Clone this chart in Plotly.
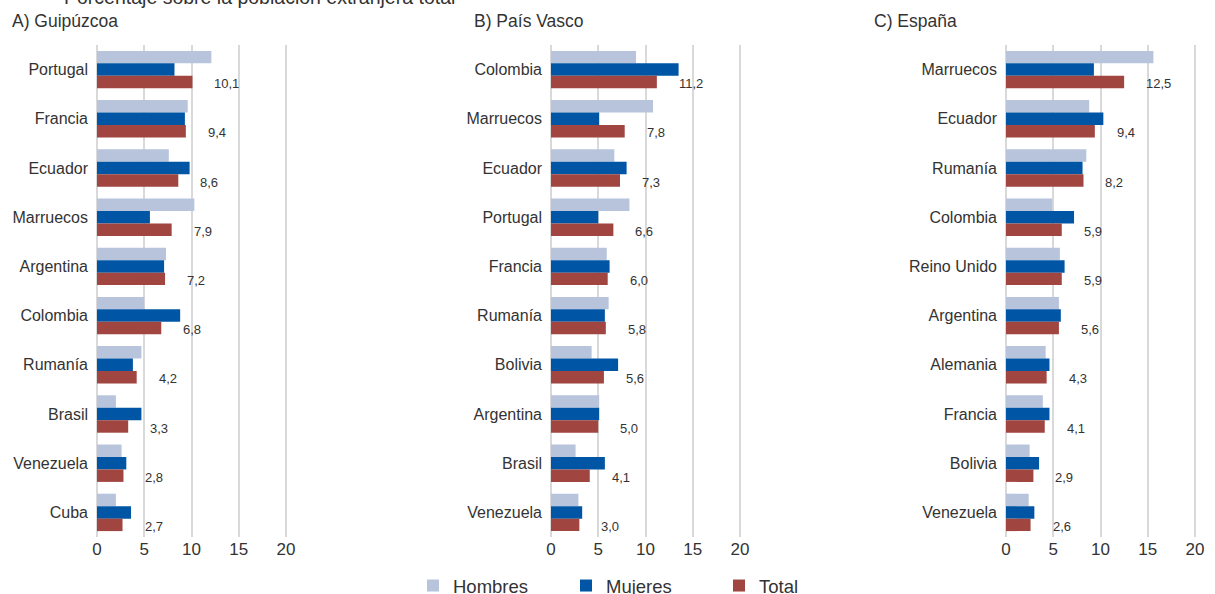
import plotly.graph_objects as go

# Panel A: Guipúzcoa
cat_a = ["Portugal", "Francia", "Ecuador", "Marruecos", "Argentina", "Colombia", "Rumanía", "Brasil", "Venezuela", "Cuba"]
hom_a = [12.1, 9.6, 7.6, 10.3, 7.3, 5.0, 4.7, 2.0, 2.6, 2.0]
muj_a = [8.2, 9.3, 9.8, 5.6, 7.1, 8.8, 3.8, 4.7, 3.1, 3.6]
tot_a = [10.1, 9.4, 8.6, 7.9, 7.2, 6.8, 4.2, 3.3, 2.8, 2.7]

# Panel B: País Vasco
cat_b = ["Colombia", "Marruecos", "Ecuador", "Portugal", "Francia", "Rumanía", "Bolivia", "Argentina", "Brasil", "Venezuela"]
hom_b = [9.0, 10.8, 6.7, 8.3, 5.9, 6.1, 4.3, 5.1, 2.6, 2.9]
muj_b = [13.5, 5.1, 8.0, 5.0, 6.2, 5.7, 7.1, 5.1, 5.7, 3.3]
tot_b = [11.2, 7.8, 7.3, 6.6, 6.0, 5.8, 5.6, 5.0, 4.1, 3.0]

# Panel C: España
cat_c = ["Marruecos", "Ecuador", "Rumanía", "Colombia", "Reino Unido", "Argentina", "Alemania", "Francia", "Bolivia", "Venezuela"]
hom_c = [15.6, 8.8, 8.5, 4.9, 5.7, 5.6, 4.2, 3.9, 2.5, 2.4]
muj_c = [9.3, 10.3, 8.1, 7.2, 6.2, 5.8, 4.6, 4.6, 3.5, 3.0]
tot_c = [12.5, 9.4, 8.2, 5.9, 5.9, 5.6, 4.3, 4.1, 2.9, 2.6]

panel_titles = ["A) Guipúzcoa", "B) País Vasco", "C) España"]
series_names = ["Hombres", "Mujeres", "Total"]
colors = ["#B8C4DC", "#0056A4", "#A0453F"]
x_ticks = [0, 5, 10, 15, 20]

W, H = 1215, 594
font_family = "Liberation Sans, Arial, sans-serif"
txt = "#333333"

fig = go.Figure()

panels = [
    (cat_a, [hom_a, muj_a, tot_a]),
    (cat_b, [hom_b, muj_b, tot_b]),
    (cat_c, [hom_c, muj_c, tot_c]),
]
domains_px = [(97, 286), (551, 740), (1006, 1195)]
XMAX = 20.3

annotations = []
for i, (cats, series) in enumerate(panels):
    xa = "x" if i == 0 else f"x{i+1}"
    ya = "y" if i == 0 else f"y{i+1}"
    for j, (name, vals) in enumerate(zip(series_names, series)):
        fig.add_trace(go.Bar(
            x=vals, y=cats, orientation="h", name=name,
            marker=dict(color=colors[j], line=dict(width=0)),
            xaxis=xa, yaxis=ya, showlegend=(i == 0),
            legendgroup=name, hoverinfo="x+y+name",
        ))
    for c, v in zip(cats, series[2]):
        annotations.append(dict(
            x=v, y=c, xref=xa, yref=ya, text=f"{v:.1f}".replace(".", ","),
            showarrow=False, xanchor="left", yanchor="middle",
            xshift=20, yshift=-14, font=dict(size=13, color=txt, family=font_family),
        ))
    d0, d1 = domains_px[i]
    d1e = d0 + (d1 - d0) * XMAX / 20
    axis_x = dict(
        domain=[d0 / W, d1e / W], range=[0, XMAX], tickvals=x_ticks,
        showgrid=True, gridcolor="#D9D9D9", gridwidth=1.5,
        zeroline=True, zerolinecolor="#D9D9D9", zerolinewidth=1.5,
        showline=False, ticks="", anchor=ya,
        tickfont=dict(size=17, color=txt, family=font_family),
        fixedrange=True,
    )
    axis_y = dict(
        domain=[0, 1], type="category", categoryorder="array", categoryarray=cats,
        autorange="reversed", showgrid=False, zeroline=False, showline=False,
        ticks="", ticklabelstandoff=8, anchor=xa, automargin=False,
        tickfont=dict(size=16, color=txt, family=font_family),
        fixedrange=True,
    )
    key = "" if i == 0 else str(i + 1)
    fig.update_layout(**{f"xaxis{key}": axis_x, f"yaxis{key}": axis_y})

# panel titles
for t, xp in zip(panel_titles, [10, 472, 872]):
    annotations.append(dict(
        text=t, x=xp / W, y=1 + (45 - 21) / 492, xref="paper", yref="paper",
        xanchor="left", yanchor="middle", showarrow=False,
        font=dict(size=17.5, color=txt, family=font_family),
    ))
# main (cut) title
annotations.append(dict(
    text="Porcentaje sobre la población extranjera total", x=62 / W, y=1 + (45 - 10) / 492,
    xref="paper", yref="paper", xanchor="left", yanchor="bottom", showarrow=False,
    font=dict(size=19.5, color=txt, family=font_family),
))

fig.update_layout(
    width=W, height=H,
    margin=dict(l=0, r=0, t=45, b=57, autoexpand=False),
    barmode="group", bargap=0.24, bargroupgap=0,
    paper_bgcolor="white", plot_bgcolor="white",
    annotations=annotations,
    legend=dict(
        orientation="h", x=413 / W, xanchor="left", y=(537 - 586) / 492, yanchor="middle",
        font=dict(size=18.5, color=txt, family=font_family),
        entrywidth=108, entrywidthmode="pixels", traceorder="normal",
        itemclick=False, itemdoubleclick=False,
    ),
    showlegend=True,
)

fig.write_html(
    "out.html",
    config={"displayModeBar": False},
    post_script="document.body.style.margin='0';document.body.style.overflow='hidden';",
)
